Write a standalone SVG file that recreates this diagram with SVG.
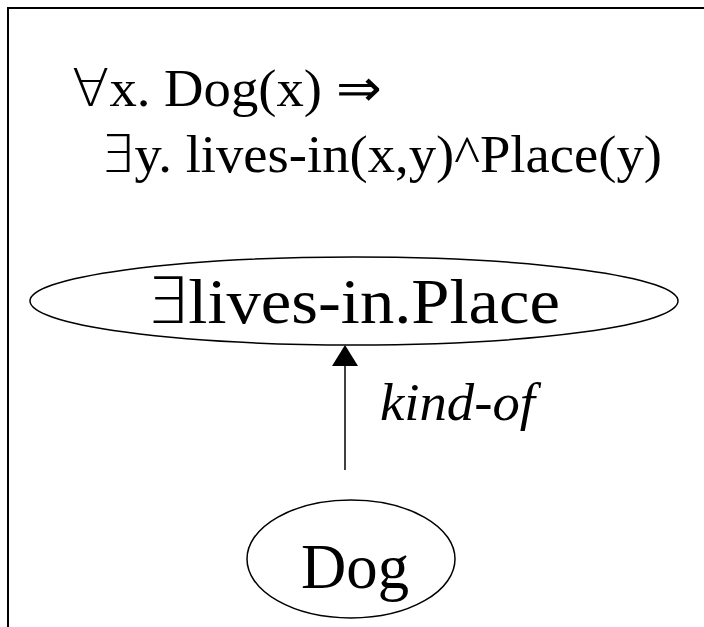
<svg xmlns="http://www.w3.org/2000/svg" width="704" height="627" viewBox="0 0 704 627">
<style>
text{font-family:"Liberation Serif","Times New Roman",serif;fill:#000}
.sym{font-family:"DejaVu Sans",sans-serif;font-weight:200}
.node{fill:#fff;stroke:#000;stroke-width:1.5}
.edge{stroke:#000;stroke-width:1.5;fill:none}
</style>
<rect width="704" height="627" fill="#fff"/>
<path d="M8,627 V8 H704" fill="none" stroke="#000" stroke-width="2"/>
<g id="formula">
<text x="72" y="106" font-size="52" textLength="310" lengthAdjust="spacingAndGlyphs"><tspan class="sym">∀</tspan>x. Dog(x) ⇒</text>
<text x="100" y="172" font-size="52" textLength="562" lengthAdjust="spacingAndGlyphs"><tspan class="sym">∃</tspan>y. lives-in(x,y)^Place(y)</text>
</g>
<g id="connectors">
<line class="edge" x1="345" y1="470" x2="345" y2="366"/>
<path d="M345,345 L358,366 L332,366 z" fill="#000"/>
<text x="380" y="420" font-size="52" font-style="italic" textLength="155" lengthAdjust="spacingAndGlyphs">kind-of</text>
</g>
<g id="node-lives-in-place">
<ellipse class="node" cx="354" cy="301" rx="324" ry="44"/>
<text x="145" y="323" font-size="64" textLength="415" lengthAdjust="spacingAndGlyphs"><tspan class="sym">∃</tspan>lives-in.Place</text>
</g>
<g id="node-dog">
<ellipse class="node" cx="351" cy="559" rx="104" ry="59"/>
<text x="301" y="588" font-size="64" textLength="108" lengthAdjust="spacingAndGlyphs">Dog</text>
</g>
</svg>
